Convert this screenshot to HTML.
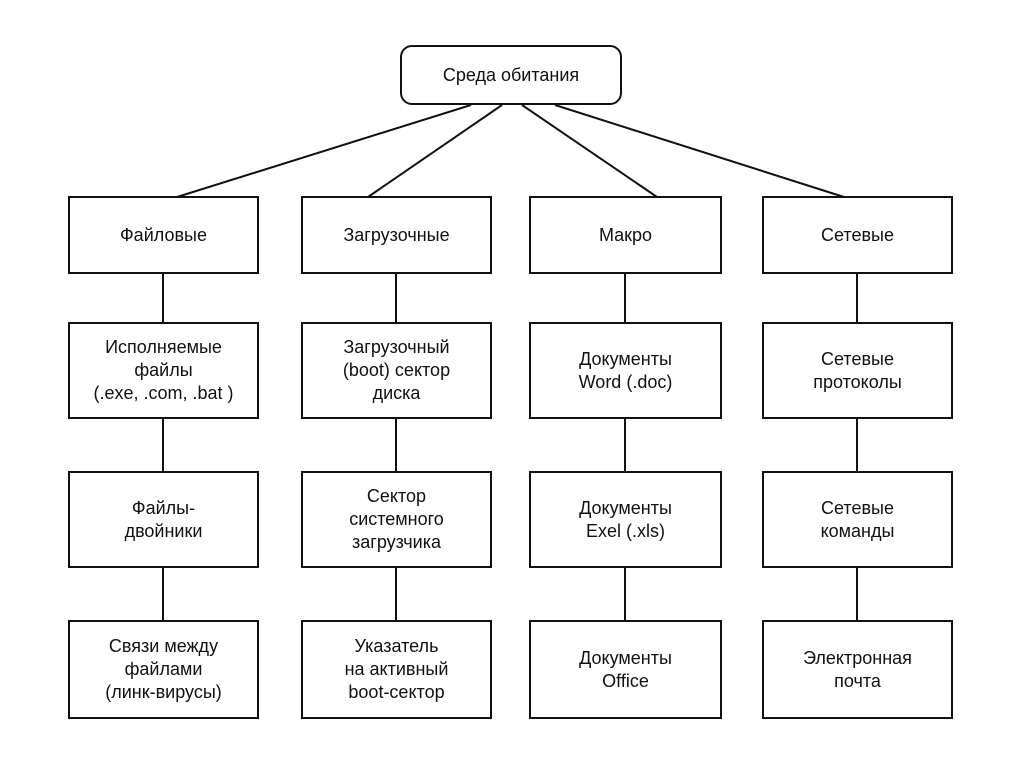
<!DOCTYPE html>
<html><head><meta charset="utf-8"><style>
body{margin:0;background:#fff;}
.b{position:absolute;border:2px solid #111;box-sizing:border-box;display:flex;align-items:center;justify-content:center;text-align:center;font-family:"Liberation Sans",sans-serif;font-size:18px;line-height:23px;color:#111;}
</style></head><body>
<div style="position:relative;width:1024px;height:768px;">
<svg width="1024" height="768" style="position:absolute;left:0;top:0" stroke="#111" stroke-width="2">
<line x1="471" y1="105" x2="177" y2="197"/>
<line x1="502" y1="105" x2="368" y2="197"/>
<line x1="522" y1="105" x2="657" y2="197"/>
<line x1="555" y1="105" x2="844" y2="197"/>
<g>
<line x1="163" y1="274" x2="163" y2="322"/><line x1="163" y1="419" x2="163" y2="471"/><line x1="163" y1="568" x2="163" y2="620"/>
<line x1="396" y1="274" x2="396" y2="322"/><line x1="396" y1="419" x2="396" y2="471"/><line x1="396" y1="568" x2="396" y2="620"/>
<line x1="625" y1="274" x2="625" y2="322"/><line x1="625" y1="419" x2="625" y2="471"/><line x1="625" y1="568" x2="625" y2="620"/>
<line x1="857" y1="274" x2="857" y2="322"/><line x1="857" y1="419" x2="857" y2="471"/><line x1="857" y1="568" x2="857" y2="620"/>
</g>
</svg>
<div class="b" style="left:400px;top:45px;width:222px;height:60px;border-radius:12px;">Среда обитания</div>

<div class="b" style="left:68px;top:196px;width:191px;height:78px;">Файловые</div>
<div class="b" style="left:301px;top:196px;width:191px;height:78px;">Загрузочные</div>
<div class="b" style="left:529px;top:196px;width:193px;height:78px;">Макро</div>
<div class="b" style="left:762px;top:196px;width:191px;height:78px;">Сетевые</div>

<div class="b" style="left:68px;top:322px;width:191px;height:97px;">Исполняемые<br>файлы<br>(.exe, .com, .bat )</div>
<div class="b" style="left:301px;top:322px;width:191px;height:97px;">Загрузочный<br>(boot) сектор<br>диска</div>
<div class="b" style="left:529px;top:322px;width:193px;height:97px;">Документы<br>Word (.doc)</div>
<div class="b" style="left:762px;top:322px;width:191px;height:97px;">Сетевые<br>протоколы</div>

<div class="b" style="left:68px;top:471px;width:191px;height:97px;">Файлы-<br>двойники</div>
<div class="b" style="left:301px;top:471px;width:191px;height:97px;">Сектор<br>системного<br>загрузчика</div>
<div class="b" style="left:529px;top:471px;width:193px;height:97px;">Документы<br>Exel (.xls)</div>
<div class="b" style="left:762px;top:471px;width:191px;height:97px;">Сетевые<br>команды</div>

<div class="b" style="left:68px;top:620px;width:191px;height:99px;">Связи между<br>файлами<br>(линк-вирусы)</div>
<div class="b" style="left:301px;top:620px;width:191px;height:99px;">Указатель<br>на активный<br>boot-сектор</div>
<div class="b" style="left:529px;top:620px;width:193px;height:99px;">Документы<br>Office</div>
<div class="b" style="left:762px;top:620px;width:191px;height:99px;">Электронная<br>почта</div>
</div>
</body></html>
